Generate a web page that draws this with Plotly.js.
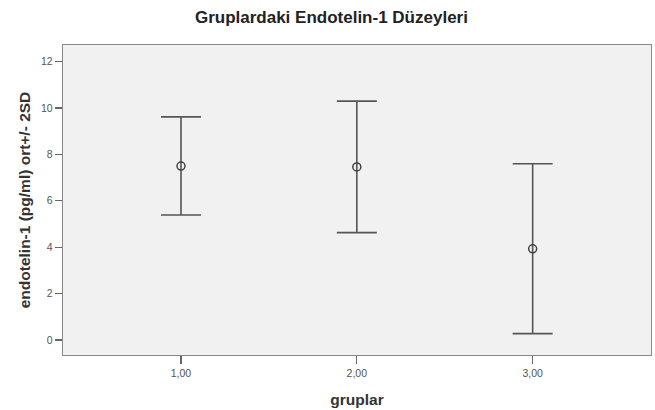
<!DOCTYPE html>
<html>
<head>
<meta charset="utf-8">
<script src="https://cdn.plot.ly/plotly-3.0.1.min.js"></script>
<style>html,body{margin:0;padding:0;background:#fff;}#chart{width:655px;height:410px;}</style>
</head>
<body>
<div id="chart"></div>
<script>
const groups = [1, 2, 3];
const groupLabels = ["1,00", "2,00", "3,00"];
const means = [7.50, 7.46, 3.93];
const upperLimits = [9.62, 10.30, 7.60];
const lowerLimits = [5.39, 4.63, 0.27];
const yTicks = [0, 2, 4, 6, 8, 10, 12];

const errPlus = means.map((m, i) => upperLimits[i] - m);
const errMinus = means.map((m, i) => m - lowerLimits[i]);

const trace = {
  x: groups,
  y: means,
  type: 'scatter',
  mode: 'markers',
  marker: {symbol: 'circle-open', size: 8, color: '#444', line: {width: 1.5, color: '#444'}},
  error_y: {
    type: 'data',
    symmetric: false,
    array: errPlus,
    arrayminus: errMinus,
    color: '#555',
    thickness: 1.6,
    width: 20
  },
  hoverinfo: 'skip',
  showlegend: false
};

const layout = {
  width: 655,
  height: 410,
  paper_bgcolor: '#ffffff',
  plot_bgcolor: '#f0f1f0',
  margin: {l: 63, r: 4, t: 45, b: 55},
  title: {
    text: 'Gruplardaki Endotelin-1 Düzeyleri',
    font: {family: 'Liberation Sans, Arial, sans-serif', size: 17, color: '#222', weight: 'bold'},
    x: 0.506, xanchor: 'center', y: 0.958, yanchor: 'middle'
  },
  font: {family: 'Liberation Sans, Arial, sans-serif'},
  xaxis: {
    range: [0.329, 3.673],
    tickvals: groups,
    ticktext: groupLabels,
    ticks: 'outside', ticklen: 8, tickcolor: '#666', tickwidth: 1.3,
    showline: true, linecolor: '#888', linewidth: 1.3, mirror: true,
    showgrid: false, zeroline: false,
    tickfont: {size: 10.5, color: '#555'},
    title: {text: 'gruplar', font: {size: 15.5, color: '#333', weight: 'bold'}, standoff: 16}
  },
  yaxis: {
    range: [-0.65, 12.72],
    tickvals: yTicks,
    ticks: 'outside', ticklen: 7, tickcolor: '#666', tickwidth: 1.3,
    showline: true, linecolor: '#888', linewidth: 1.3, mirror: true,
    showgrid: false, zeroline: false,
    tickfont: {size: 10.5, color: '#555'},
    title: {text: 'endotelin-1 (pg/ml) ort+/- 2SD', font: {size: 15.5, color: '#333', weight: 'bold'}, standoff: 6}
  }
};

Plotly.newPlot('chart', [trace], layout, {displayModeBar: false, staticPlot: true});
</script>
</body>
</html>
